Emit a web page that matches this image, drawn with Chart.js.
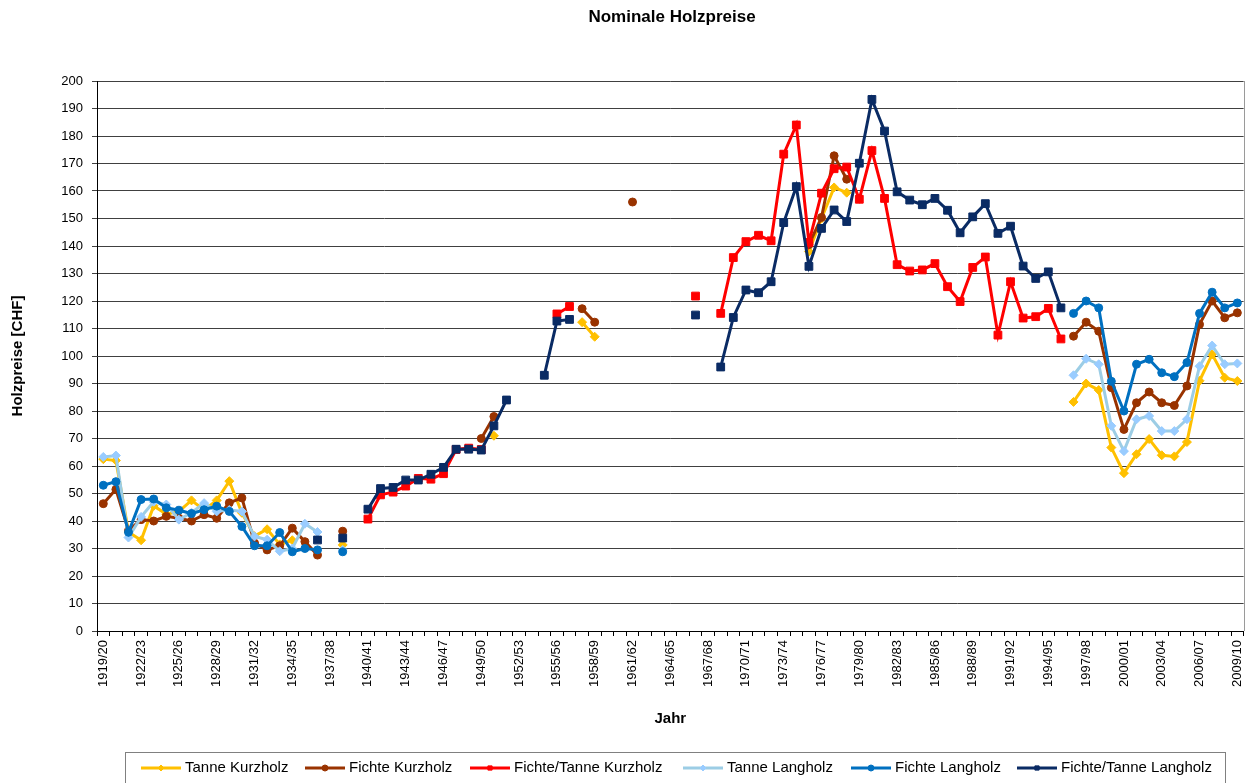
<!DOCTYPE html>
<html>
<head>
<meta charset="utf-8">
<script src="https://cdn.jsdelivr.net/npm/chart.js@4.4.1/dist/chart.umd.min.js"></script>
<style>
  html, body { margin: 0; padding: 0; background: #fff; }
  canvas { display: block; }
</style>
</head>
<body>
<canvas id="chart" width="1257" height="783"></canvas>
<script>
// Nominale Holzpreise 1919/20 - 2009/10 (CHF)
const firstYear = 1919;
const yearCount = 91;
const years = Array.from({ length: yearCount }, (_, i) => {
    const a = firstYear + i;
    return a + '/' + String((a + 1) % 100).padStart(2, '0');
});

const seriesNames = ['Tanne Kurzholz', 'Fichte Kurzholz', 'Fichte/Tanne Kurzholz',
    'Tanne Langholz', 'Fichte Langholz', 'Fichte/Tanne Langholz'];

const _ = null;

const tanneKurz = [
    62.5, 62, 36, 33, 45.5, 42.5, 43.5, 47.5, 44, 47.5,
    54.5, 43, 34.5, 37, 31.5, 33, _, _, _, 31.3,
    _, _, _, _, _, _, _, _, _, _,
    _, 71, _, _, _, _, _, _, 112.3, 107,
    _, _, _, _, _, _, _, _, _, _,
    _, _, _, _, _, _, 138, 150, 161.3, 159.4,
    _, _, _, _, _, _, _, _, _, _,
    _, _, _, _, _, _, _, 83.3, 90, 87.6,
    66.7, 57.4, 64.3, 69.8, 63.9, 63.5, 68.7, 91, 100.6, 92.1,
    90.9
];

const fichteKurz = [
    46.3, 51.5, 36.5, 40.5, 40, 41.7, 41, 40, 42.3, 41,
    46.6, 48.4, 32, 29.5, 31, 37.4, 32.5, 27.6, _, 36.3,
    _, _, _, _, _, _, _, _, _, _,
    70, 78, _, _, _, _, _, _, 117.2, 112.3,
    _, _, 156, _, _, _, _, _, _, _,
    _, _, _, _, _, _, 140.5, 150.4, 172.8, 164.3,
    _, _, _, _, _, _, _, _, _, _,
    _, _, _, _, _, _, _, 107.2, 112.3, 109,
    88.5, 73.3, 83, 86.9, 83, 82, 89.1, 111.5, 120, 113.9,
    115.7
];

const fichteTanneKurz = [
    _, _, _, _, _, _, _, _, _, _,
    _, _, _, _, _, _, _, _, _, _,
    _, 40.7, 49.5, 50.5, 52.7, 55.5, 55.2, 57.2, 66, 66.5,
    66, _, _, _, _, _, 115.3, 118, _, _,
    _, _, _, _, _, _, _, 121.8, _, 115.5,
    135.8, 141.6, 143.9, 141.9, 173.4, 184, 141.3, 159.2, 168.1, 168.7,
    157, 174.7, 157.3, 133.2, 130.9, 131.3, 133.6, 125.2, 119.8, 132.2,
    136, 107.6, 127, 113.8, 114.3, 117.3, 106.2, _, _, _,
    _, _, _, _, _, _, _, _, _, _,
    _
];

const tanneLang = [
    63.3, 63.8, 34, 41.5, 47, 46, 40.5, 43, 46.5, 43.5,
    44, 43.5, 34.4, 33.2, 29, 30, 39, 36, _, 29.5,
    _, _, _, _, _, _, _, _, _, _,
    _, _, _, _, _, _, _, _, _, _,
    _, _, _, _, _, _, _, _, _, _,
    _, _, _, _, _, _, _, _, _, _,
    _, _, _, _, _, _, _, _, _, _,
    _, _, _, _, _, _, _, 93, 99, 97,
    74.6, 65.4, 77, 78.2, 72.7, 72.7, 77, 96.3, 103.8, 97,
    97.3
];

const fichteLang = [
    53, 54.3, 35.9, 47.8, 48, 44.8, 43.9, 42.7, 44.1, 45.4,
    43.5, 38, 31, 31, 35.8, 28.8, 30, 29.5, _, 28.8,
    _, _, _, _, _, _, _, _, _, _,
    _, _, _, _, _, _, _, _, _, _,
    _, _, _, _, _, _, _, _, _, _,
    _, _, _, _, _, _, _, _, _, _,
    _, _, _, _, _, _, _, _, _, _,
    _, _, _, _, _, _, _, 115.5, 120, 117.5,
    90.8, 80, 97, 98.8, 93.9, 92.5, 97.6, 115.5, 123.2, 117.5,
    119.3
];

const fichteTanneLang = [
    _, _, _, _, _, _, _, _, _, _,
    _, _, _, _, _, _, _, 33.1, _, 33.8,
    _, 44.3, 51.8, 52.2, 54.9, 54.9, 57, 59.5, 66.1, 66.1,
    65.8, 74.6, 84, _, _, 93, 112.7, 113.3, _, _,
    _, _, _, _, _, _, _, 114.9, _, 96,
    114, 124, 123, 127, 148.5, 161.6, 132.6, 146.4, 153.1, 148.9,
    170.1, 193.3, 181.8, 159.7, 156.7, 155, 157.3, 153, 144.8, 150.6,
    155.4, 144.6, 147.2, 132.7, 128.2, 130.6, 117.5, _, _, _,
    _, _, _, _, _, _, _, _, _, _,
    _
];

const seriesValues = [tanneKurz, fichteKurz, fichteTanneKurz, tanneLang, fichteLang, fichteTanneLang];
const lineColors = ['#FFC000', '#993300', '#FF0000', '#9CCDE5', '#0070C0', '#0A2B64'];
const markerColors = ['#FFC000', '#993300', '#FF0000', '#99CCFF', '#0070C0', '#0A2B64'];
const markerStyles = ['rectRot', 'circle', 'rect', 'rectRot', 'circle', 'rect'];
const markerSizes = [4.5, 4, 5.5, 4.5, 4, 5.5];

const FONT = '"Liberation Sans", Arial, sans-serif';

const datasets = seriesNames.map((name, i) => ({
    label: name,
    data: seriesValues[i],
    borderColor: lineColors[i],
    backgroundColor: markerColors[i],
    borderWidth: 3,
    pointStyle: markerStyles[i],
    pointRadius: markerSizes[i],
    pointBackgroundColor: markerColors[i],
    pointBorderColor: markerColors[i],
    pointBorderWidth: 1,
    spanGaps: false,
    tension: 0,
    order: seriesNames.length - i
}));

// title, plot frame and boxed legend the way Excel draws them
const overlay = {
    id: 'overlay',
    afterDraw(chart) {
        const c = chart.ctx;
        const area = chart.chartArea;
        c.save();

        // right frame of the plot area
        c.strokeStyle = '#9a9a9a';
        c.lineWidth = 1;
        c.beginPath();
        c.moveTo(Math.round(area.right) + 0.5, area.top);
        c.lineTo(Math.round(area.right) + 0.5, area.bottom);
        c.stroke();

        // title
        c.fillStyle = '#000';
        c.font = 'bold 17px ' + FONT;
        c.textAlign = 'center';
        c.textBaseline = 'middle';
        c.fillText('Nominale Holzpreise', 672, 17);

        // legend box
        c.strokeStyle = '#808080';
        c.strokeRect(125.5, 752.5, 1100, 40);

        const starts = [141, 305, 470, 683, 851, 1017];
        const ly = 768;
        c.font = '15px ' + FONT;
        c.textAlign = 'left';
        seriesNames.forEach((name, i) => {
            const x0 = starts[i];
            c.strokeStyle = lineColors[i];
            c.lineWidth = 3;
            c.beginPath();
            c.moveTo(x0, ly);
            c.lineTo(x0 + 40, ly);
            c.stroke();
            if (Chart.helpers && Chart.helpers.drawPoint) {
                c.fillStyle = markerColors[i];
                c.strokeStyle = markerColors[i];
                c.lineWidth = 1;
                Chart.helpers.drawPoint(c, { pointStyle: markerStyles[i], radius: 3, rotation: 0, borderWidth: 1 }, x0 + 20, ly);
            }
            c.fillStyle = '#000';
            c.fillText(name, x0 + 44, ly);
        });
        c.restore();
    }
};

const ctx = document.getElementById('chart').getContext('2d');
new Chart(ctx, {
    type: 'line',
    data: { labels: years, datasets: datasets },
    options: {
        responsive: false,
        animation: false,
        events: [],
        layout: { padding: { left: 9, right: 12, top: 81, bottom: 55 } },
        plugins: {
            legend: { display: false },
            title: { display: false },
            tooltip: { enabled: false }
        },
        scales: {
            x: {
                offset: true,
                grid: { drawOnChartArea: false, drawTicks: true, tickLength: 5, offset: true, color: '#000' },
                border: { color: '#000', width: 1 },
                ticks: {
                    autoSkip: false,
                    maxRotation: 90,
                    minRotation: 90,
                    padding: 4,
                    color: '#000',
                    font: { family: FONT, size: 13 },
                    callback: (v, i) => (i % 3 === 0 ? years[i] : '')
                },
                title: {
                    display: true, text: 'Jahr', color: '#000', padding: 0,
                    font: { family: FONT, size: 15, weight: 'bold' }
                },
                afterFit: (scale) => { scale.height = 97; }
            },
            y: {
                min: 0,
                max: 200,
                grid: { color: '#404040', lineWidth: 1, tickLength: 5 },
                border: { color: '#000', width: 1 },
                ticks: {
                    stepSize: 10,
                    padding: 9,
                    color: '#000',
                    font: { family: FONT, size: 13 }
                },
                title: {
                    display: true, text: 'Holzpreise [CHF]', color: '#000', padding: 0,
                    font: { family: FONT, size: 15, weight: 'bold' }
                },
                afterFit: (scale) => { scale.width = 88; }
            }
        }
    },
    plugins: [overlay]
});
</script>
</body>
</html>
